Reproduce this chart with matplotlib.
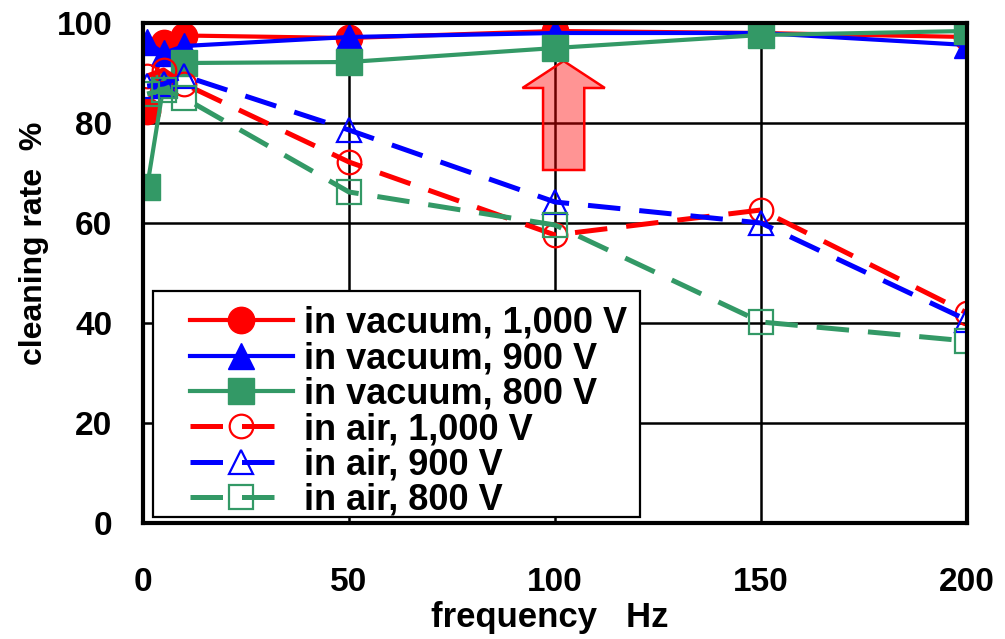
import matplotlib
matplotlib.use("Agg")
import matplotlib.pyplot as plt
from matplotlib.patches import Polygon, Rectangle

plt.rcParams['font.family'] = ['Liberation Sans', 'DejaVu Sans']
plt.rcParams['font.weight'] = 'bold'

# ---- data ----
freq = [1, 5, 10, 50, 100, 150, 200]
vac_1000 = [82.5, 96.0, 97.5, 97.0, 98.4, 98.0, 97.2]
vac_900 = [96.2, 94.0, 95.4, 97.2, 98.0, 98.0, 95.6]
vac_800 = [67.2, 87.6, 92.0, 92.2, 95.0, 97.6, 98.4]
air_1000 = [89.4, 90.6, 87.8, 72.2, 57.6, 62.6, 42.0]
air_900 = [87.4, 87.8, 89.4, 78.6, 64.2, 60.0, 40.6]
air_800 = [85.8, 86.6, 85.0, 66.2, 59.6, 40.2, 36.4]

labels = ["in vacuum, 1,000 V", "in vacuum, 900 V", "in vacuum, 800 V",
          "in air, 1,000 V", "in air, 900 V", "in air, 800 V"]
xticks = [0, 50, 100, 150, 200]
yticks = [0, 20, 40, 60, 80, 100]

RED = '#FF0000'
BLUE = '#0000FF'
GREEN = '#339966'

W, H = 1005, 639
fig = plt.figure(figsize=(W / 100, H / 100), dpi=100)
L, R, B, T = 143, 967, 523, 23
ax = fig.add_axes([L / W, 1 - B / H, (R - L) / W, (B - T) / H])

ax.set_xlim(0, 200)
ax.set_ylim(0, 100)

solid_kw = dict(linestyle='-', linewidth=3.0, markersize=19)
dash_kw = dict(linestyle=(0, (6.5, 3.8)), linewidth=3.6, markersize=17,
               markerfacecolor='none', markeredgewidth=1.6)

h1, = ax.plot(freq, vac_1000, color=RED, marker='o', **solid_kw, zorder=3)
h2, = ax.plot(freq, vac_900, color=BLUE, marker='^', **solid_kw, zorder=3)
h3, = ax.plot(freq, vac_800, color=GREEN, marker='s', **solid_kw, zorder=3)
h4, = ax.plot(freq, air_1000, color=RED, marker='o', markeredgecolor=RED, **dash_kw, zorder=4)
h5, = ax.plot(freq, air_900, color=BLUE, marker='^', markeredgecolor=BLUE, **dash_kw, zorder=4)
h6, = ax.plot(freq, air_800, color=GREEN, marker='s', markeredgecolor=GREEN, **dash_kw, zorder=4)

# grid
ax.set_xticks(xticks)
ax.set_yticks(yticks)
ax.grid(True, color='black', linewidth=1.8, zorder=1)
ax.set_axisbelow(True)
for s in ax.spines.values():
    s.set_linewidth(3.0)
    s.set_zorder(5)

ax.tick_params(axis='both', length=0, labelsize=24)
ax.tick_params(axis='y', pad=22)
ax.tick_params(axis='x', pad=32)
for lab in ax.get_xticklabels() + ax.get_yticklabels():
    lab.set_fontweight('bold')

ax.set_xlabel("frequency   Hz", fontsize=25, fontweight='bold')
ax.xaxis.set_label_coords(0.494, -0.155)
ax.set_ylabel("cleaning rate  %", fontsize=23, fontweight='bold')
ax.yaxis.set_label_coords(-0.1145, 0.56)

# upward arrow
xc = 102.1
arrow_pts = [(xc - 5, 70.6), (xc + 5, 70.6), (xc + 5, 87.0), (xc + 10, 87.0),
             (xc, 92.4), (xc - 10, 87.0), (xc - 5, 87.0)]
ax.add_patch(Polygon(arrow_pts, closed=True, facecolor=(1, 0, 0, 0.42),
                     edgecolor=RED, linewidth=1.8, zorder=2))

# legend box (drawn manually) + legend entries
def px2ax(px, py):
    return ((px - L) / (R - L), (B - py) / (B - T))

bx0, by0 = px2ax(153, 517)
bx1, by1 = px2ax(640, 291)
ax.add_patch(Rectangle((bx0, by0), bx1 - bx0, by1 - by0, transform=ax.transAxes,
                       facecolor='white', edgecolor='black', linewidth=1.6, zorder=6))

leg = ax.legend([h1, h2, h3, h4, h5, h6], labels, loc='upper left',
                bbox_to_anchor=px2ax(190, 306), borderaxespad=0, borderpad=0,
                frameon=False, handlelength=2.85, handletextpad=0.3,
                labelspacing=0.01, prop={'weight': 'bold', 'size': 26})
leg.set_zorder(7)

fig.savefig("out.png", dpi=100)
